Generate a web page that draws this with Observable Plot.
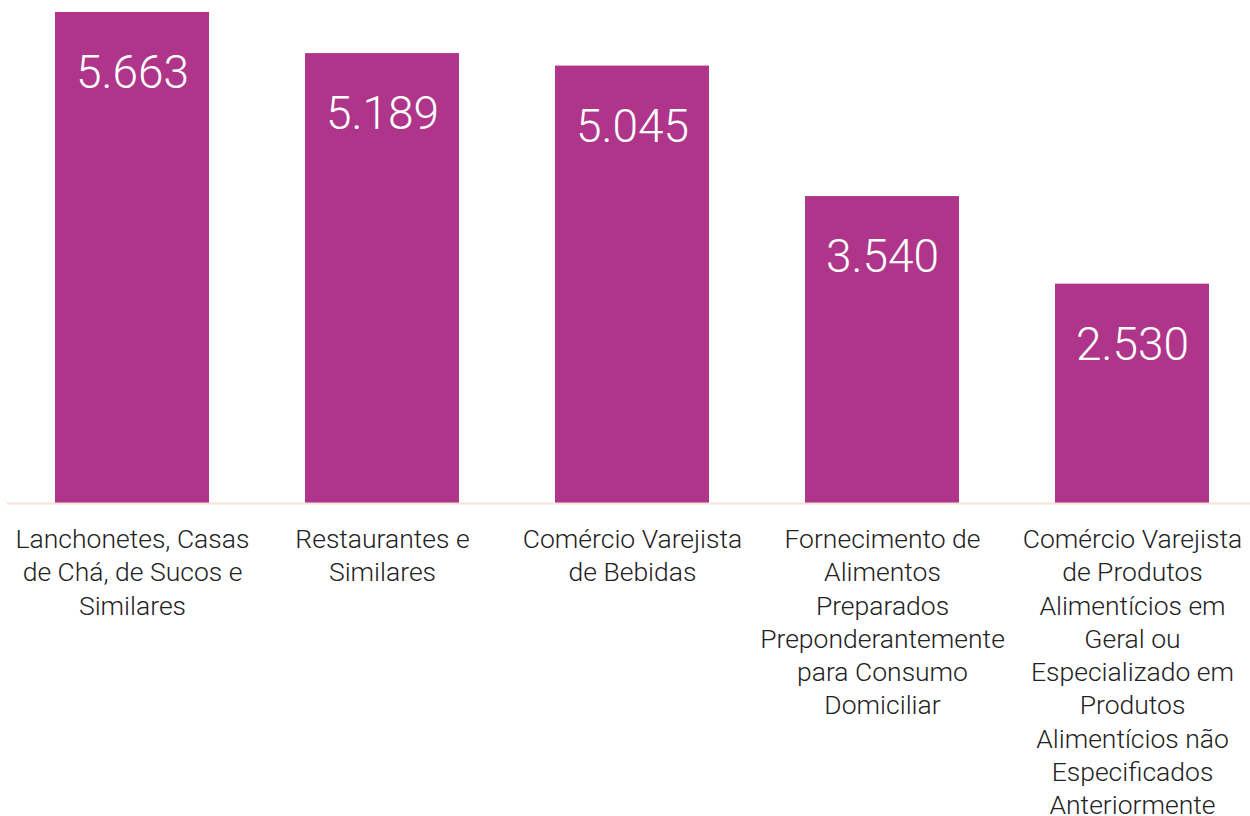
<!DOCTYPE html>
<html>
<head>
<meta charset="utf-8">
<script src="https://cdn.jsdelivr.net/npm/d3@7"></script>
<script src="https://cdn.jsdelivr.net/npm/@observablehq/plot@0.6"></script>
<style>
  html, body { margin: 0; padding: 0; background: #ffffff; }
  #chart svg { display: block; }
</style>
</head>
<body>
<div id="chart"></div>
<script>
const categories = [
  "Lanchonetes, Casas\nde Chá, de Sucos e\nSimilares",
  "Restaurantes e\nSimilares",
  "Comércio Varejista\nde Bebidas",
  "Fornecimento de\nAlimentos\nPreparados\nPreponderantemente\npara Consumo\nDomiciliar",
  "Comércio Varejista\nde Produtos\nAlimentícios em\nGeral ou\nEspecializado em\nProdutos\nAlimentícios não\nEspecificados\nAnteriormente"
];
const values = [5663, 5189, 5045, 3540, 2530];
const valueLabels = ["5.663", "5.189", "5.045", "3.540", "2.530"];

const data = categories.map((c, i) => ({category: c, value: values[i], label: valueLabels[i]}));

const chart = Plot.plot({
  width: 1250,
  height: 816,
  marginTop: 12,
  marginBottom: 313,
  marginLeft: 7,
  marginRight: 0,
  style: {fontFamily: "Roboto, sans-serif", background: "#ffffff"},
  x: {domain: categories, range: [-41, 1305], padding: 0.384, axis: null},
  y: {domain: [0, 5663], nice: false, axis: null},
  marks: [
    Plot.barY(data, {x: "category", y: "value", fill: "#AF358A"}),
    Plot.ruleY([0], {stroke: "#F6E2D6", strokeWidth: 2}),
    Plot.text(data, {
      x: "category", y: "value", text: "label",
      fill: "#ffffff", fontSize: 46, fontWeight: 300,
      lineAnchor: "middle", dy: 61
    }),
    Plot.text(data, {
      x: "category", y: () => 0, text: "category",
      fill: "#222222", fontSize: 26.5, fontWeight: 300,
      lineAnchor: "top", lineHeight: 1.255, dy: 21
    })
  ]
});
document.getElementById("chart").appendChild(chart);
</script>
</body>
</html>
